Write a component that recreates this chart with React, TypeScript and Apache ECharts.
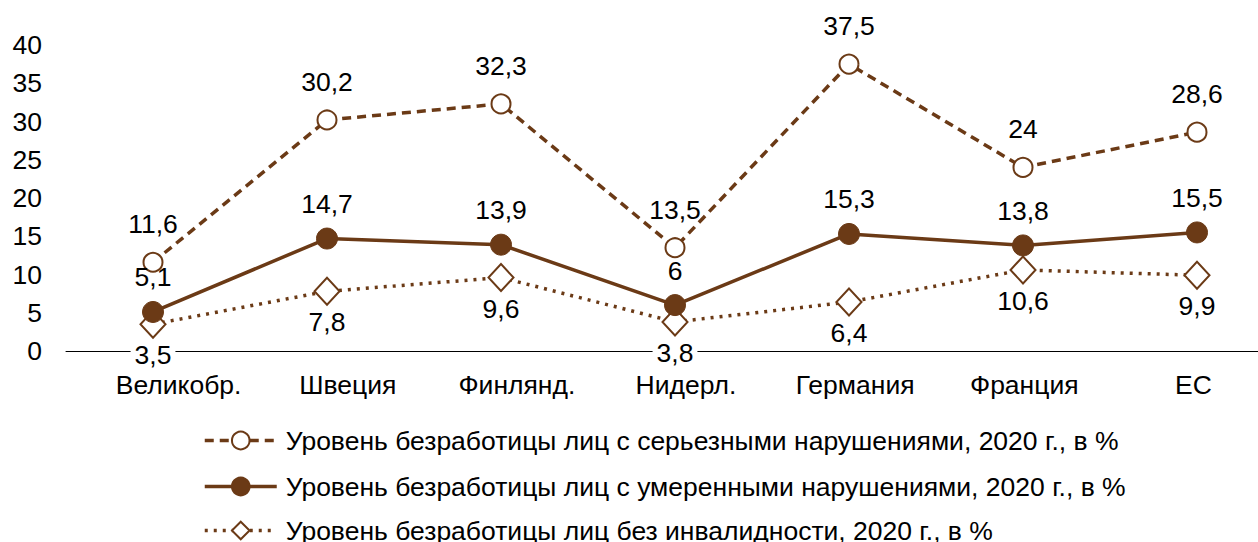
import React, { useEffect, useRef } from "react";
import * as echarts from "echarts";

const categories = ["Великобр.", "Швеция", "Финлянд.", "Нидерл.", "Германия", "Франция", "ЕС"];
const serious = [11.6, 30.2, 32.3, 13.5, 37.5, 24, 28.6];
const moderate = [5.1, 14.7, 13.9, 6, 15.3, 13.8, 15.5];
const noDisability = [3.5, 7.8, 9.6, 3.8, 6.4, 10.6, 9.9];
const yTicks = [0, 5, 10, 15, 20, 25, 30, 35, 40];
const seriesNames = [
  "Уровень безработицы лиц с серьезными нарушениями, 2020 г., в %",
  "Уровень безработицы лиц с умеренными нарушениями, 2020 г., в %",
  "Уровень безработицы лиц без инвалидности, 2020 г., в %",
];

const BROWN = "#6b3a16";
const FONT = "'Liberation Sans', Arial, sans-serif";
const FS = 26.5;
const fmt = (p: any) => String(p.value).replace(".", ",");

export default function App() {
  const ref = useRef<HTMLDivElement>(null);
  useEffect(() => {
    if (!ref.current) return;
    const chart = echarts.init(ref.current, null, { renderer: "svg" });
    const legendBase = {
      orient: "horizontal",
      left: 198,
      itemWidth: 72,
      itemHeight: 22,
      lineStyle: { width: 3.5 },
      textStyle: { fontSize: FS, color: "#000", fontFamily: FONT, padding: [0, 0, 0, 4] },
    };
    const yBase = {
      type: "value",
      min: yTicks[0],
      max: yTicks[yTicks.length - 1],
      interval: yTicks[1] - yTicks[0],
      axisLine: { show: false },
      axisTick: { show: false },
      splitLine: { show: false },
    };
    chart.setOption({
      animation: false,
      textStyle: { fontFamily: FONT },
      grid: [
        { left: 66, top: 45, width: 1218, height: 306 },
        { left: 94, top: 45, width: 1184, height: 306 },
      ],
      xAxis: [
        {
          type: "category",
          gridIndex: 0,
          data: categories,
          boundaryGap: true,
          axisLine: { lineStyle: { color: "#000", width: 1 } },
          axisTick: { show: false },
          axisLabel: { show: false },
        },
        {
          type: "category",
          gridIndex: 1,
          data: categories,
          boundaryGap: true,
          axisLine: { show: false },
          axisTick: { show: false },
          axisLabel: { color: "#000", fontSize: FS, margin: 20, fontFamily: FONT },
        },
      ],
      yAxis: [
        {
          ...yBase,
          gridIndex: 0,
          axisLabel: { color: "#000", fontSize: FS, margin: 24, fontFamily: FONT },
        },
        { ...yBase, gridIndex: 1, axisLabel: { show: false } },
      ],
      legend: [
        { ...legendBase, top: 422, data: [seriesNames[0]] },
        { ...legendBase, top: 468, data: [seriesNames[1]] },
        { ...legendBase, top: 512, data: [seriesNames[2]] },
      ],
      series: [
        {
          name: seriesNames[0],
          type: "line",
          data: serious,
          symbol: "circle",
          symbolSize: 19,
          lineStyle: { color: BROWN, width: 3.5, type: [9, 6] },
          itemStyle: { color: "#fff", borderColor: BROWN, borderWidth: 2 },
          label: { show: true, position: "top", distance: 14, fontSize: FS, color: "#000", formatter: fmt, fontFamily: FONT },
          z: 3,
        },
        {
          name: seriesNames[1],
          type: "line",
          data: moderate,
          symbol: "circle",
          symbolSize: 21,
          lineStyle: { color: BROWN, width: 3.5 },
          itemStyle: { color: BROWN, borderColor: BROWN, borderWidth: 1 },
          label: { show: true, position: "top", distance: 10, fontSize: FS, color: "#000", formatter: fmt, fontFamily: FONT },
          z: 4,
        },
        {
          name: seriesNames[2],
          type: "line",
          data: noDisability,
          symbol: "diamond",
          symbolSize: [25, 27],
          lineStyle: { color: BROWN, width: 3.5, type: [3, 6] },
          itemStyle: { color: "#fff", borderColor: BROWN, borderWidth: 2 },
          label: {
            show: true,
            position: "bottom",
            distance: 3,
            fontSize: FS,
            color: "#000",
            formatter: fmt,
            backgroundColor: "#fff",
            padding: [0, 4],
            fontFamily: FONT,
          },
          z: 2,
        },
      ],
    });
    return () => chart.dispose();
  }, []);
  return (
    <div style={{ width: 1258, height: 542, position: "absolute", left: 0, top: 0, overflow: "hidden" }}>
      <div ref={ref} style={{ width: 1300, height: 542 }} />
    </div>
  );
}
